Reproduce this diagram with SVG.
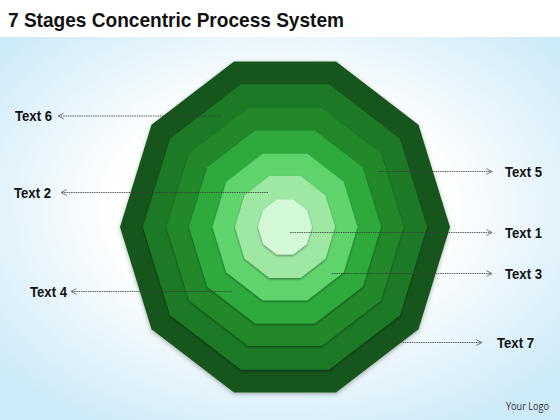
<svg xmlns="http://www.w3.org/2000/svg" width="560" height="420" viewBox="0 0 560 420">
  <defs>
    <radialGradient id="bg" cx="50%" cy="45%" r="65%">
      <stop offset="0.45" stop-color="#ffffff"/>
      <stop offset="1" stop-color="#cdeaf8"/>
    </radialGradient>
    <filter id="sh" x="-20%" y="-20%" width="140%" height="140%">
      <feDropShadow dx="0" dy="1.2" stdDeviation="1.2" flood-color="#000" flood-opacity="0.45"/>
    </filter>
    <filter id="sho" x="-20%" y="-20%" width="140%" height="140%">
      <feDropShadow dx="0" dy="1.5" stdDeviation="2" flood-color="#000" flood-opacity="0.3"/>
    </filter>
    <marker id="arr" viewBox="0 0 10 10" refX="9" refY="5" markerWidth="7" markerHeight="7" markerUnits="userSpaceOnUse" orient="auto">
      <path d="M1,1 L9,5 L1,9" fill="none" stroke="#666" stroke-width="1.3"/>
    </marker>
    <style>
      .lbl { font-family: "Liberation Sans", Arial, sans-serif; font-weight: bold; font-size: 14px; fill: #111; }
      .con { fill: none; stroke: #3a3a3a; stroke-width: 0.8; stroke-dasharray: 1.5 0.8; marker-end: url(#arr); }
      .inner { filter: url(#sh); }
    </style>
  </defs>

  <rect x="0" y="0" width="560" height="420" fill="#ffffff"/>
  <rect x="0" y="37" width="560" height="383" fill="url(#bg)"/>

  <text x="8" y="27" font-family="'Liberation Sans', Arial, sans-serif" font-weight="bold" font-size="21" fill="#111" textLength="336" lengthAdjust="spacingAndGlyphs">7 Stages Concentric Process System</text>

  <g id="layer1">
    <polygon filter="url(#sho)" fill="#17561b" points="450,227 418.5,329.3 336,392.5 234,392.5 151.5,329.3 120,227 151.5,124.7 234,61.5 336,61.5 418.5,124.7"/>
  </g>
  <g id="layer2">
    <polygon class="inner" fill="#1e7a26" points="427,227 399.9,315.2 328.9,369.7 241.1,369.7 170.1,315.2 143,227 170.1,138.8 241.1,84.3 328.9,84.3 399.9,138.8"/>
  </g>
  <g id="layer3">
    <polygon class="inner" fill="#23882c" points="403.5,227 380.9,300.5 321.6,345.9 248.4,345.9 189.1,300.5 166.5,227 189.1,153.5 248.4,108.1 321.6,108.1 380.9,153.5"/>
  </g>
  <g id="layer4">
    <polygon class="inner" fill="#2eaa3c" points="381,227 362.7,286.7 314.7,323.5 255.3,323.5 207.3,286.7 189,227 207.3,167.3 255.3,130.5 314.7,130.5 362.7,167.3"/>
  </g>
  <g id="layer5">
    <polygon class="inner" fill="#5ed46c" points="357.5,227 343.7,272.3 307.4,300.2 262.6,300.2 226.3,272.3 212.5,227 226.3,181.7 262.6,153.8 307.4,153.8 343.7,181.7"/>
  </g>
  <g id="layer6">
    <polygon class="inner" fill="#9ee8a4" points="335,227 325.5,258.5 300.5,277.9 269.5,277.9 244.5,258.5 235,227 244.5,195.5 269.5,176.1 300.5,176.1 325.5,195.5"/>
  </g>
  <g id="layer7">
    <polygon class="inner" fill="#d4f9d6" points="312,227 306.8,244.1 293.3,254.6 276.7,254.6 263.2,244.1 258,227 263.2,209.9 276.7,199.4 293.3,199.4 306.8,209.9"/>
  </g>

  <g id="connectors">
    <line class="con" x1="221" y1="116" x2="58" y2="116"/>
    <line class="con" x1="268" y1="192.5" x2="61" y2="192.5"/>
    <line class="con" x1="232" y1="291.5" x2="71" y2="291.5"/>
    <line class="con" x1="378" y1="171.5" x2="492" y2="171.5"/>
    <line class="con" x1="290" y1="232.5" x2="492" y2="232.5"/>
    <line class="con" x1="332" y1="273.5" x2="492" y2="273.5"/>
    <line class="con" x1="384" y1="342.5" x2="482" y2="342.5"/>
  </g>

  <g id="label-text6"><text class="lbl" x="15" y="121" textLength="37" lengthAdjust="spacingAndGlyphs">Text 6</text></g>
  <g id="label-text2"><text class="lbl" x="14" y="198" textLength="37" lengthAdjust="spacingAndGlyphs">Text 2</text></g>
  <g id="label-text4"><text class="lbl" x="30" y="297" textLength="37" lengthAdjust="spacingAndGlyphs">Text 4</text></g>
  <g id="label-text5"><text class="lbl" x="505" y="177" textLength="37" lengthAdjust="spacingAndGlyphs">Text 5</text></g>
  <g id="label-text1"><text class="lbl" x="505" y="238" textLength="37" lengthAdjust="spacingAndGlyphs">Text 1</text></g>
  <g id="label-text3"><text class="lbl" x="505" y="279" textLength="37" lengthAdjust="spacingAndGlyphs">Text 3</text></g>
  <g id="label-text7"><text class="lbl" x="497" y="348" textLength="37" lengthAdjust="spacingAndGlyphs">Text 7</text></g>

  <text x="506" y="410" font-family="'Open Sans', 'Liberation Sans', sans-serif" font-size="10.5" fill="#333" textLength="43" lengthAdjust="spacingAndGlyphs">Your Logo</text>
</svg>
